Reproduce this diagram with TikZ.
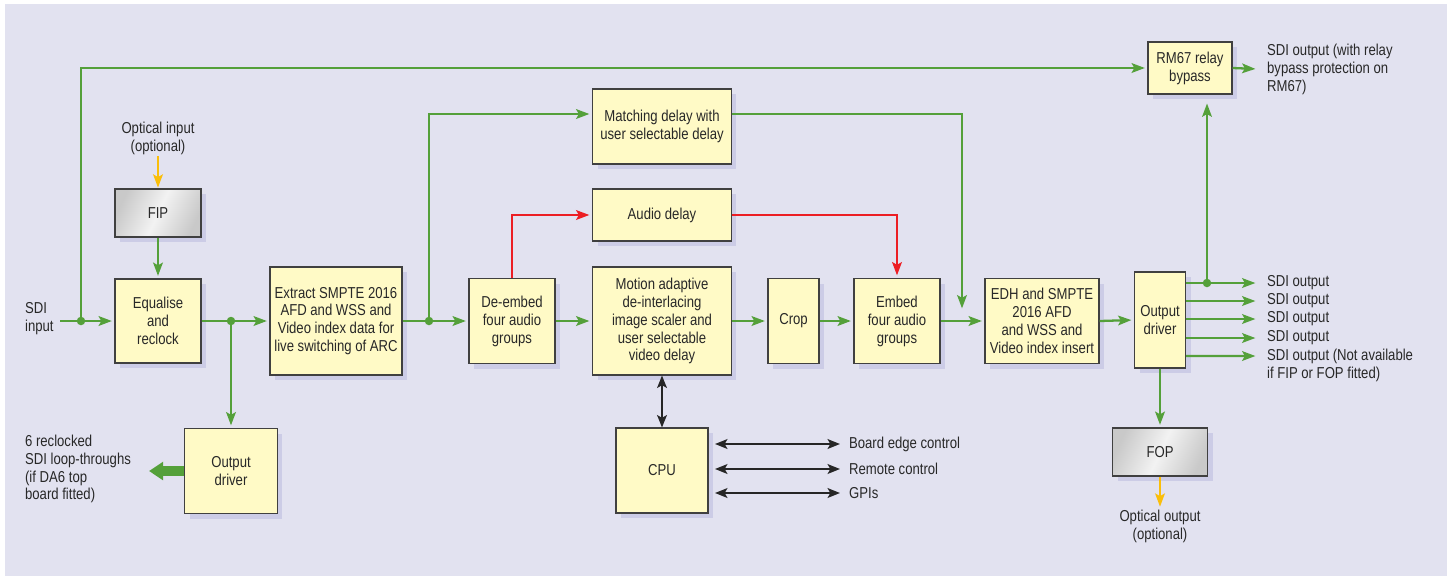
\documentclass[tikz,border=0pt]{standalone}
\usepackage{fontspec}
\setmainfont{Liberation Sans}[FakeStretch=0.83]
\usepackage{xcolor}
\usepackage{tikz}
\usetikzlibrary{arrows.meta, positioning, shadows}

\definecolor{bglav}{RGB}{226,226,240}
\definecolor{shadelav}{RGB}{204,204,230}
\definecolor{boxyellow}{RGB}{255,250,198}
\definecolor{sigGreen}{RGB}{84,160,58}
\definecolor{audioRed}{RGB}{236,30,36}
\definecolor{optYellow}{RGB}{250,190,10}
\definecolor{txtgray}{RGB}{40,40,40}

\begin{document}
\begin{tikzpicture}[
    x=0.02cm, y=-0.02cm,
    font=\fontsize{9}{10.2}\selectfont,
    box/.style={draw=black!75, line width=0.6pt, fill=boxyellow, align=center, text=txtgray,
                inner sep=1pt,
                drop shadow={fill=shadelav, opacity=1, shadow xshift=0.1cm, shadow yshift=-0.1cm}},
    optbox/.style={box, left color=gray!42, right color=gray!42, middle color=gray!10, shading angle=65},
    note/.style={align=center, text=txtgray, inner sep=1pt},
    outlbl/.style={anchor=west, align=left, text=txtgray, inner ysep=1pt, inner xsep=5pt},
    flow/.style={-{Stealth[length=7.5pt, width=5.5pt, inset=1.5pt]}, line width=1.3pt, color=sigGreen,
                 shorten >=1.5pt},
    audio/.style={flow, color=audioRed},
    optic/.style={flow, color=optYellow, shorten >=0.5pt},
    fat/.style={-{Triangle[length=8pt, width=10pt]}, line width=5.5pt, color=sigGreen},
    ctrl/.style={{Stealth[length=7pt, width=5.5pt, inset=1.5pt]}-{Stealth[length=7pt, width=5.5pt, inset=1.5pt]},
                 line width=1.3pt, color=black!85},
    dot/.style={circle, fill=sigGreen, inner sep=0pt, minimum size=0.17cm}
]

% Frame
\useasboundingbox (0,0) rectangle (1447,576);
\fill[bglav] (5,4) rectangle (1447,576);

% Input stage
\node[note, anchor=west, align=left] (sdilbl) at (23,319) {SDI\\input};
\coordinate (sdiin) at (60,321);
\node[box, minimum width=1.72cm, minimum height=1.68cm] (equal) at (158,321) {Equalise\\and\\reclock};
\node[optbox, minimum width=1.72cm, minimum height=0.96cm] (fip) at (158,213) {FIP};
\node[note] (optin) at (158,138) {Optical input\\(optional)};
\node[box, minimum width=2.64cm, minimum height=2.16cm] (extract) at (336,321)
    {Extract SMPTE 2016\\AFD and WSS and\\Video index data for\\live switching of ARC};
\node[box, minimum width=1.86cm, minimum height=1.70cm] (loopdrv) at (231,471) {Output\\driver};
\node[note, anchor=west, align=left] (looplbl) at (23,469)
    {6 reclocked\\SDI loop-throughs\\(if DA6 top\\board fitted)};
\coordinate (loopout) at (149,471);

% Audio / video processing
\node[box, minimum width=1.72cm, minimum height=1.70cm] (deembed) at (512,321) {De-embed\\four audio\\groups};
\node[box, minimum width=2.78cm, minimum height=1.50cm] (match) at (662,126.5)
    {Matching delay with\\user selectable delay};
\node[box, minimum width=2.78cm, minimum height=1.04cm] (adelay) at (662,215) {Audio delay};
\node[box, minimum width=2.78cm, minimum height=2.16cm] (motion) at (662,321)
    {Motion adaptive\\de-interlacing\\image scaler and\\user selectable\\video delay};
\node[box, minimum width=1.02cm, minimum height=1.70cm] (crop) at (793.5,321) {Crop};
\node[box, minimum width=1.72cm, minimum height=1.70cm] (embed) at (897,321) {Embed\\four audio\\groups};
\coordinate (mergein) at (962,311);

% Control
\node[box, minimum width=1.84cm, minimum height=1.70cm] (cpu) at (662,470.5) {CPU};
\coordinate (cpuR) at (715,470.5);
\node[outlbl] (bec) at (840,444) {Board edge control};
\node[outlbl] (remote) at (840,469) {Remote control};
\node[outlbl] (gpi) at (840,493) {GPIs};

% Output stage
\node[box, minimum width=2.28cm, minimum height=1.70cm] (edh) at (1042,321)
    {EDH and SMPTE\\2016 AFD\\and WSS and\\Video index insert};
\node[box, minimum width=1.02cm, minimum height=1.92cm] (outdrv) at (1160,320) {Output\\driver};
\node[box, minimum width=1.68cm, minimum height=1.04cm] (rm67) at (1190,68) {RM67 relay\\bypass};
\node[outlbl] (rmout) at (1258,69) {SDI output (with relay\\bypass protection on\\RM67)};
\node[outlbl] (sdio1) at (1258,283) {SDI output};
\node[outlbl] (sdio2) at (1258,301) {SDI output};
\node[outlbl] (sdio3) at (1258,319) {SDI output};
\node[outlbl] (sdio4) at (1258,338) {SDI output};
\node[outlbl] (sdio5) at (1258,365) {SDI output (Not available\\if FIP or FOP fitted)};
\coordinate (split4) at (1207,283);
\node[optbox, minimum width=1.90cm, minimum height=0.96cm] (fop) at (1160,452) {FOP};
\node[note] (optout) at (1160,526) {Optical output\\(optional)};

% Splits
\coordinate (split1) at (81,321);
\coordinate (split2) at (231,321);
\coordinate (split3) at (429,321);

% Arrows
\draw[optic] (optin) -- (fip);
\draw[flow] (fip) -- (equal);
\draw[flow] (sdiin) -- (equal.west);
\draw[flow] (split1) |- (rm67.west);
\draw[flow] (equal.east) -- (extract.west);
\draw[flow] (split2) -- (loopdrv.north);
\draw[fat] (loopdrv.west) -- (loopout);
\draw[flow] (extract.east) -- (deembed.west);
\draw[flow] (split3) |- ([yshift=0.25cm]match.west);
\draw[flow] ([yshift=0.25cm]match.east) -| (mergein);
\draw[audio] (deembed.north) |- (adelay.west);
\draw[audio] (adelay.east) -| (embed.north);
\draw[flow] (deembed.east) -- (motion.west);
\draw[flow] (motion.east) -- (crop.west);
\draw[flow] (crop.east) -- (embed.west);
\draw[flow] (embed.east) -- (edh.west);
\draw[flow] (edh.east) -- (outdrv.west);
\draw[ctrl] (motion.south) -- (cpu.north);
\draw[ctrl] (cpuR |- bec.west) -- (bec.west);
\draw[ctrl] (cpuR |- remote.west) -- (remote.west);
\draw[ctrl] (cpuR |- gpi.west) -- (gpi.west);
\draw[flow] (rm67.east) -- (rmout.west);
\draw[flow] (outdrv.east |- sdio1.west) -- (sdio1.west);
\draw[flow] (outdrv.east |- sdio2.west) -- (sdio2.west);
\draw[flow] (outdrv.east |- sdio3.west) -- (sdio3.west);
\draw[flow] (outdrv.east |- sdio4.west) -- (sdio4.west);
\draw[flow] (outdrv.east |- 0,356) -- ([yshift=0.18cm]sdio5.west);
\draw[flow, shorten >=0.18cm] (split4) -- (split4 |- rm67.south);
\draw[flow] (outdrv.south) -- (fop.north);
\draw[optic] (fop.south) -- (optout.north);

% Junction dots
\node[dot] at (split1) {};
\node[dot] at (split2) {};
\node[dot] at (split3) {};
\node[dot] at (split4) {};

\end{tikzpicture}
\end{document}
